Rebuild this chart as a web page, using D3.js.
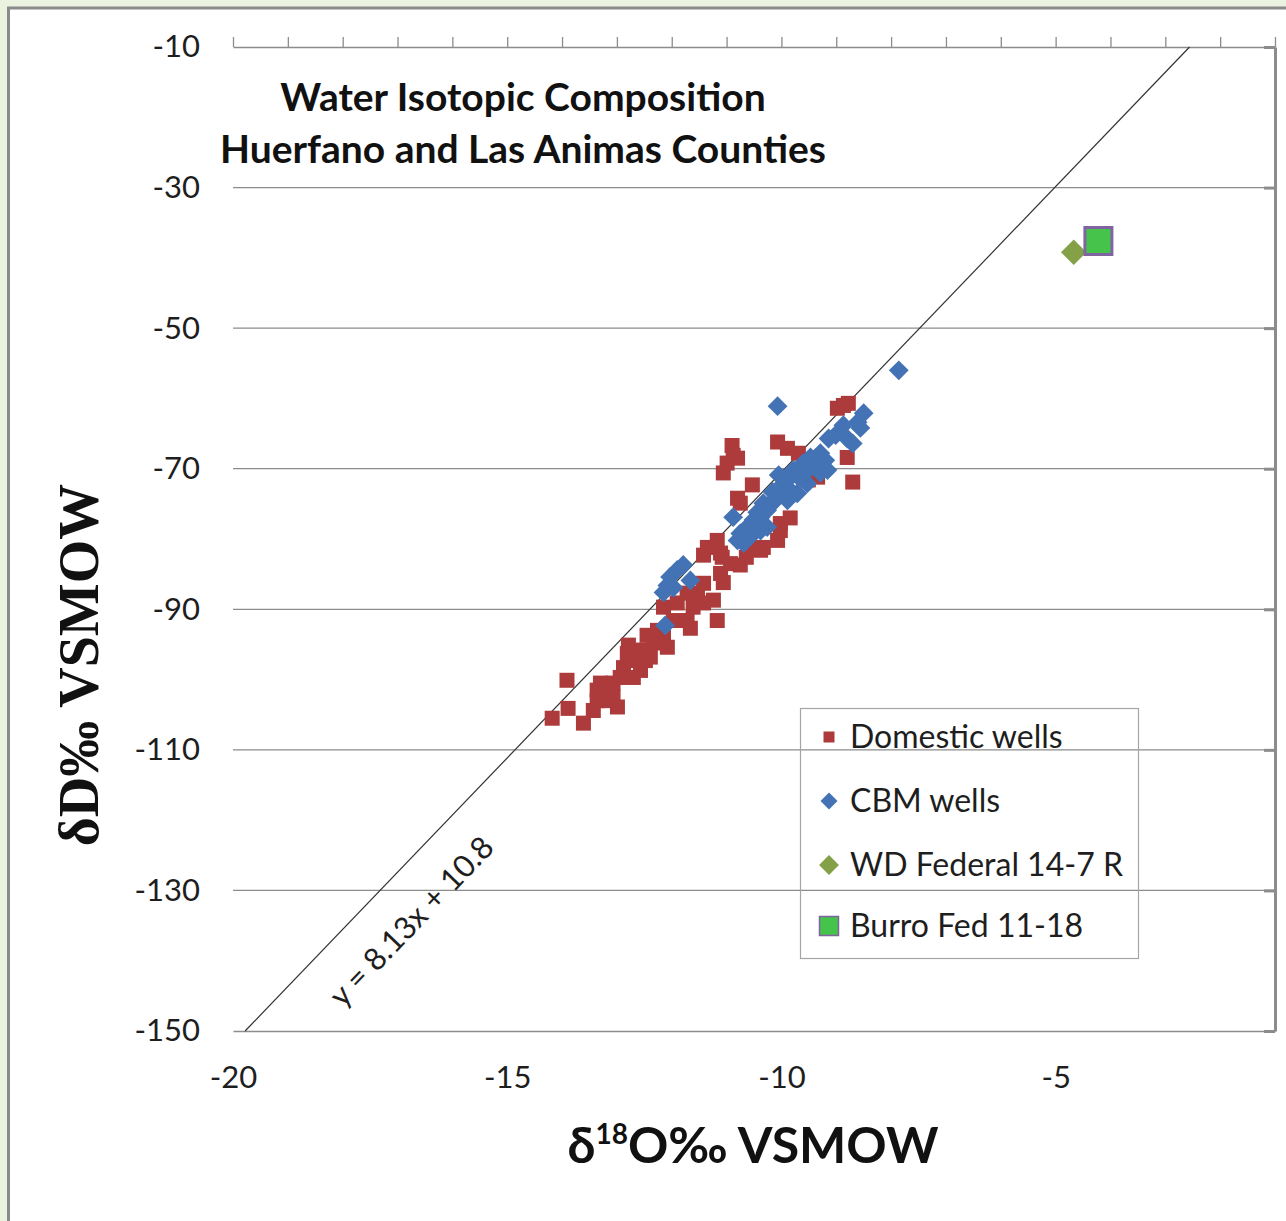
<!DOCTYPE html>
<html>
<head>
<meta charset="utf-8">
<script src="https://cdn.jsdelivr.net/npm/d3@7"></script>
<style>
  body { margin: 0; background: #ebf3e0; }
  svg { display: block; }
</style>
</head>
<body>
<div id="chart"></div>
<script>
// tick values
const xTicks = [-20, -15, -10, -5];
const yTicks = [-10, -30, -50, -70, -90, -110, -130, -150];

// Domestic wells (d18O, dD)
const domesticX = [-14.18, -13.91, -13.89, -13.61, -13.43, -13.36, -13.36, -13.30, -13.07, -13.07,
  -12.99, -12.94, -12.88, -12.81, -12.70, -12.70, -12.57, -12.57, -12.45, -12.39,
  -12.34, -12.15, -12.08, -12.15, -11.97, -11.90, -11.72, -11.72, -11.66, -11.61,
  -11.53, -11.42, -11.42, -11.24, -11.17, -11.42, -11.08, -11.11, -11.06, -11.35,
  -11.17, -11.11, -10.93, -10.75, -10.64, -10.57, -10.38, -10.33, -10.07, -10.02,
  -10.02, -9.84, -10.80, -10.75, -10.53, -11.06, -10.99, -10.90, -10.88, -10.80,
  -10.07, -9.89, -9.69, -9.34, -8.98, -8.87, -8.78, -8.80, -8.70, -9.51,
  -12.79, -12.48, -12.26, -13.12, -13.21];
const domesticY = [-105.5, -100.1, -104.1, -106.2, -104.4, -103.0, -101.5, -100.5, -100.5, -102.5,
  -103.9, -99.7, -98.3, -96.3, -99.7, -97.3, -98.7, -95.8, -93.7, -96.8,
  -94.8, -94.0, -95.4, -89.7, -91.6, -89.1, -91.6, -87.7, -92.7, -89.7,
  -87.7, -89.1, -86.3, -88.7, -91.6, -82.3, -82.6, -84.9, -86.2, -81.2,
  -80.2, -82.0, -83.5, -83.7, -82.6, -81.3, -81.6, -81.2, -80.2, -78.8,
  -77.8, -77.0, -74.2, -74.9, -72.3, -70.6, -69.2, -66.7, -68.1, -68.5,
  -66.2, -67.1, -67.8, -71.2, -61.4, -61.0, -60.7, -68.4, -71.9, -71.6,
  -95.1, -97.3, -93.0, -101.5, -103.0];

// CBM wells
const cbmX = [-7.86, -10.07, -8.50, -8.61, -8.87, -9.01, -8.80, -8.56, -8.70, -9.14,
  -9.47, -9.29, -9.20, -9.34, -9.60, -9.71, -9.84, -9.96, -10.05, -10.02,
  -10.11, -10.20, -10.26, -10.38, -10.51, -10.62, -10.75, -10.80, -10.88, -10.69,
  -10.51, -10.26, -9.89, -9.71, -9.53, -9.29, -9.16, -11.79, -11.90, -12.03,
  -11.66, -12.08, -12.15, -11.97, -12.12,
  -10.44, -10.33, -10.16, -9.93, -9.78, -9.66, -9.38, -9.84, -10.38, -10.60, -9.56];
const cbmY = [-56.0, -61.1, -62.1, -63.4, -63.8, -65.2, -65.7, -64.2, -66.4, -65.7,
  -68.4, -67.8, -68.8, -69.8, -69.2, -70.2, -71.2, -72.1, -70.9, -73.5,
  -74.5, -74.9, -75.9, -76.9, -77.3, -78.3, -79.2, -80.2, -76.9, -80.6,
  -79.2, -78.3, -74.5, -73.5, -72.1, -70.6, -70.2, -83.7, -84.4, -85.4,
  -85.9, -86.6, -87.6, -86.9, -92.3,
  -76.2, -74.9, -73.3, -71.4, -70.2, -71.4, -68.5, -73.1, -78.8, -79.8, -70.5];

// single samples
const wdFederalX = [-4.67], wdFederalY = [-39.2];
const burroFedX = [-4.22], burroFedY = [-37.6];

// meteoric water line y = 8.13x + 10.8
const lineSlope = 8.13, lineIntercept = 10.8;

const legendLabels = ["Domestic wells", "CBM wells", "WD Federal 14-7 R", "Burro Fed 11-18"];

const width = 1286, height = 1221;
const margin = {top: 47, right: 11, bottom: 190, left: 233};
const sans = "Lato, 'Open Sans', sans-serif";

const x = d3.scaleLinear().domain([-20, -1]).range([margin.left, width - margin.right]);
const y = d3.scaleLinear().domain([-150, -10]).range([height - margin.bottom, margin.top]);

const svg = d3.select("#chart").append("svg")
  .attr("width", width)
  .attr("height", height);

// page panel
svg.append("rect").attr("width", width).attr("height", height).attr("fill", "#ebf3e0");
svg.append("rect")
  .attr("x", 8.5).attr("y", 8)
  .attr("width", width + 20).attr("height", height + 20)
  .attr("fill", "#fff")
  .attr("stroke", "#8a8a8a")
  .attr("stroke-width", 3);

const x0 = x.range()[0], x1 = x.range()[1];
const yTop = y.range()[1], yBot = y.range()[0];

// horizontal gridlines
svg.append("g")
  .selectAll("line")
  .data(yTicks.filter(d => d !== -10 && d !== -150))
  .join("line")
    .attr("x1", x0).attr("x2", x1)
    .attr("y1", d => y(d)).attr("y2", d => y(d))
    .attr("stroke", "#8c8c8c")
    .attr("stroke-width", 1.3);

// top axis with small upward ticks
svg.append("g")
  .attr("transform", `translate(0,${yTop})`)
  .call(d3.axisTop(x).tickValues(d3.range(-20, 0, 1)).tickSize(10).tickSizeOuter(0).tickFormat(""))
  .call(g => g.selectAll("path, line").attr("stroke", "#8c8c8c").attr("stroke-width", 1.3));

// bottom axis
svg.append("g")
  .attr("transform", `translate(0,${yBot})`)
  .call(d3.axisBottom(x).tickValues(xTicks).tickSize(0).tickPadding(35).tickFormat(d => String(d)))
  .call(g => g.select(".domain").attr("stroke", "#8c8c8c").attr("stroke-width", 1.5))
  .call(g => g.selectAll("text")
    .attr("font-family", sans).attr("font-size", 31).attr("fill", "#1e1e1e"));

// left labels (no axis line)
svg.append("g")
  .attr("transform", `translate(${x0},0)`)
  .call(d3.axisLeft(y).tickValues(yTicks).tickSize(0).tickPadding(33).tickFormat(d => String(d)))
  .call(g => g.select(".domain").remove())
  .call(g => g.selectAll("text")
    .attr("font-family", sans).attr("font-size", 31).attr("fill", "#1e1e1e"));

// right axis, ticks pointing inward
svg.append("g")
  .attr("transform", `translate(${x1},0)`)
  .call(d3.axisLeft(y).tickValues(yTicks).tickSize(11).tickSizeOuter(0).tickFormat(""))
  .call(g => g.selectAll("path, line").attr("stroke", "#8c8c8c").attr("stroke-width", 3));

// meteoric water line
const lineX = [(-150 - lineIntercept) / lineSlope, (-10 - lineIntercept) / lineSlope];
svg.append("path")
  .attr("d", d3.line()(lineX.map(v => [x(v), y(lineSlope * v + lineIntercept)])))
  .attr("stroke", "#333")
  .attr("stroke-width", 1.2)
  .attr("fill", "none");

const angle = Math.atan2(y(lineSlope * lineX[1] + lineIntercept) - y(lineSlope * lineX[0] + lineIntercept),
  x(lineX[1]) - x(lineX[0])) * 180 / Math.PI;
svg.append("text")
  .attr("transform", `translate(${x(-18.0)},${y(-146.8)}) rotate(${angle})`)
  .attr("font-family", sans).attr("font-size", 31).attr("fill", "#1e1e1e")
  .text("y = 8.13x + 10.8");

// markers
const sq = s => d3.symbol(d3.symbolSquare, s * s)();

svg.append("g")
  .selectAll("path")
  .data(d3.zip(domesticX, domesticY))
  .join("path")
    .attr("d", sq(15))
    .attr("transform", d => `translate(${x(d[0])},${y(d[1])})`)
    .attr("fill", "#ad3b3b");

svg.append("g")
  .selectAll("path")
  .data(d3.zip(cbmX, cbmY))
  .join("path")
    .attr("d", sq(14))
    .attr("transform", d => `translate(${x(d[0])},${y(d[1])}) rotate(45)`)
    .attr("fill", "#4373b5");

svg.append("g")
  .selectAll("path")
  .data(d3.zip(wdFederalX, wdFederalY))
  .join("path")
    .attr("d", sq(18))
    .attr("transform", d => `translate(${x(d[0])},${y(d[1])}) rotate(45)`)
    .attr("fill", "#84a147");

svg.append("g")
  .selectAll("path")
  .data(d3.zip(burroFedX, burroFedY))
  .join("path")
    .attr("d", sq(27))
    .attr("transform", d => `translate(${x(d[0])},${y(d[1])})`)
    .attr("fill", "#45c34b")
    .attr("stroke", "#8064a2")
    .attr("stroke-width", 3);

// title
const title = svg.append("text")
  .attr("text-anchor", "middle")
  .attr("font-family", sans).attr("font-weight", "bold").attr("font-size", 39).attr("fill", "#111");
title.append("tspan").attr("x", 523).attr("y", 111).text("Water Isotopic Composition");
title.append("tspan").attr("x", 523).attr("y", 163).text("Huerfano and Las Animas Counties");

// axis titles
const xt = svg.append("text")
  .attr("x", 753).attr("y", 1163)
  .attr("text-anchor", "middle")
  .attr("font-family", sans).attr("font-weight", "bold").attr("font-size", 50).attr("fill", "#111");
xt.append("tspan").text("δ");
xt.append("tspan").attr("font-size", 28).attr("dy", -19).text("18");
xt.append("tspan").attr("dy", 19).text("O‰ VSMOW");

svg.append("text")
  .attr("transform", "translate(98,665) rotate(-90)")
  .attr("text-anchor", "middle")
  .attr("font-family", "'Liberation Serif', 'DejaVu Serif', serif")
  .attr("font-weight", "bold").attr("font-size", 56).attr("fill", "#111")
  .text("δD‰ VSMOW");

// legend
const legend = svg.append("g");
legend.append("rect")
  .attr("x", 800.5).attr("y", 708.5).attr("width", 338).attr("height", 250)
  .attr("fill", "none").attr("stroke", "#a5a5a5").attr("stroke-width", 1.2);

const rowY = [737, 801, 865, 926];
const legendMarks = [
  {d: sq(11), rot: 0, fill: "#ad3b3b"},
  {d: sq(12), rot: 45, fill: "#4373b5"},
  {d: sq(14), rot: 45, fill: "#84a147"},
  {d: sq(19), rot: 0, fill: "#45c34b", stroke: "#8064a2"}
];
const item = legend.selectAll("g.item")
  .data(legendLabels)
  .join("g")
    .attr("class", "item")
    .attr("transform", (d, i) => `translate(0,${rowY[i]})`);
item.append("path")
  .attr("d", (d, i) => legendMarks[i].d)
  .attr("transform", (d, i) => `translate(829,0) rotate(${legendMarks[i].rot})`)
  .attr("fill", (d, i) => legendMarks[i].fill)
  .attr("stroke", (d, i) => legendMarks[i].stroke || "none")
  .attr("stroke-width", 1.5);
item.append("text")
  .attr("x", 850).attr("dy", "0.35em")
  .attr("font-family", sans).attr("font-size", 32).attr("fill", "#1e1e1e")
  .text(d => d);
</script>
</body>
</html>
